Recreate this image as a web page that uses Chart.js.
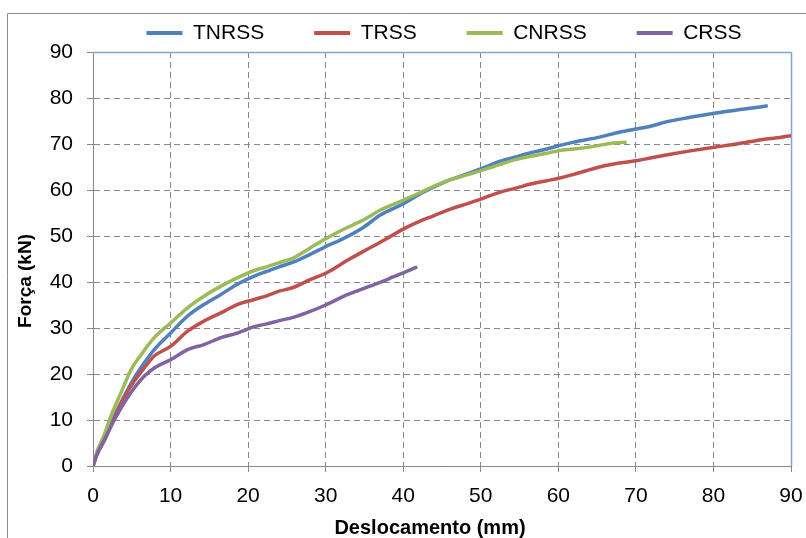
<!DOCTYPE html>
<html><head><meta charset="utf-8">
<script src="https://cdn.jsdelivr.net/npm/chart.js@4.4.1/dist/chart.umd.min.js"></script>
<style>html,body{margin:0;padding:0;background:#fff}canvas{display:block}</style>
</head><body>
<canvas id="c" width="806" height="538"></canvas>
<script>
// ---- data ----
const seriesNames = ['TNRSS', 'TRSS', 'CNRSS', 'CRSS'];

const tnrssX = [0, 0.5, 1.5, 2.75, 4, 5.3, 6.6, 7.9, 10, 12.2, 14.3, 16.5, 18.6, 20.8, 22.4, 24, 25.8, 28, 30, 32, 34.8, 37, 40, 42, 43.9, 46, 48.2, 50, 52.4, 54.5, 56.7, 58.5, 60.2, 62, 65.3, 68, 70.2, 72, 73.9, 77, 80.1, 84, 87];
const tnrssY = [0, 2.5, 5.7, 10.8, 15.1, 19.1, 22.4, 25.3, 28.9, 32.6, 35.1, 37.3, 39.5, 41.3, 42.3, 43.3, 44.3, 46, 47.7, 49.2, 51.8, 54.5, 57, 59, 60.6, 62.2, 63.5, 64.6, 66.2, 67.2, 68.2, 68.9, 69.7, 70.4, 71.5, 72.6, 73.3, 73.9, 74.8, 75.8, 76.7, 77.6, 78.3];

const trssX = [0, 0.5, 1.5, 2.75, 4, 5.3, 6.6, 7.9, 10, 12.2, 14.3, 16.5, 18.6, 20.8, 22.4, 24, 25.8, 28, 30, 32.7, 34.8, 37, 40, 41.3, 43.9, 46, 48.2, 50, 52.4, 54.5, 56.7, 58.5, 60.2, 62, 65.3, 67, 70.2, 72, 73.9, 77, 80.1, 83, 86.8, 88, 90];
const trssY = [0, 2.5, 5.7, 10.4, 14.8, 18.4, 21.3, 23.9, 26, 29.3, 31.5, 33.3, 35.1, 36.2, 37, 38, 38.8, 40.5, 41.9, 44.6, 46.6, 48.6, 51.5, 52.6, 54.4, 55.8, 57, 58, 59.5, 60.4, 61.4, 62, 62.6, 63.4, 65, 65.6, 66.4, 67, 67.6, 68.5, 69.3, 70, 71.1, 71.3, 71.8];

const cnrssX = [0, 0.6, 1.46, 2.3, 3.6, 4.9, 6.2, 7.9, 10, 12.2, 14.3, 16.5, 18.6, 20.8, 22.4, 24, 25.8, 28, 30, 32, 33.5, 35, 37, 40, 42, 43.9, 46, 48.2, 50, 52.4, 54.5, 56.7, 58.5, 60.2, 62, 65.3, 67, 68.8];
const cnrssY = [0, 3.5, 6.8, 10.8, 15.9, 20.9, 24.2, 27.9, 31.1, 34.4, 36.9, 39.1, 40.9, 42.5, 43.3, 44.2, 45.2, 47.4, 49.4, 51.2, 52.4, 53.6, 55.6, 57.8, 59.3, 60.8, 62.2, 63.3, 64.2, 65.5, 66.6, 67.4, 68, 68.6, 68.9, 69.7, 70.2, 70.4];

const crssX = [0, 0.5, 1.46, 2.75, 4, 5.3, 6.6, 7.9, 10, 12.2, 14.3, 16.5, 18.6, 20.8, 22.4, 24, 25.8, 28, 30, 32.7, 34, 35.7, 37, 38.7, 40, 41.8];
const crssY = [0, 2.5, 5.7, 10, 13.7, 16.9, 19.5, 21.3, 23.1, 25.3, 26.4, 27.9, 28.9, 30.3, 30.9, 31.6, 32.3, 33.6, 35, 37.2, 38, 39.1, 39.9, 41.1, 42, 43.3];

const xTicks = [0, 10, 20, 30, 40, 50, 60, 70, 80, 90];
const yTicks = [0, 10, 20, 30, 40, 50, 60, 70, 80, 90];

const xTitle = 'Deslocamento (mm)';
const yTitle = 'Força (kN)';

// ---- styling ----
const colors = ['#4F81BD', '#C0504D', '#9BBB59', '#8064A2'];
const FONT = "'Liberation Sans', Arial, sans-serif";
const GRID = '#878787';

function pts(xs, ys) { return xs.map((x, i) => ({ x: x, y: ys[i] })); }
const allX = [tnrssX, trssX, cnrssX, crssX];
const allY = [tnrssY, trssY, cnrssY, crssY];

const datasets = seriesNames.map((name, i) => ({
  label: name,
  data: pts(allX[i], allY[i]),
  borderColor: colors[i],
  backgroundColor: colors[i],
  borderWidth: 3.5,
  pointRadius: 0,
  cubicInterpolationMode: 'monotone',
  order: 4 - i
}));

const framePlugin = {
  id: 'frame',
  afterLayout(chart) {
    const lg = chart.legend, ca = chart.chartArea;
    if (!lg) return;
    const dx = (ca.left + ca.right) / 2 + 2 - (lg.left + lg.right) / 2;
    lg.left += dx; lg.right += dx;
    lg.top = -27.5;
    lg.bottom = ca.top;
    lg.height = lg.bottom - lg.top;
  },
  beforeDraw(chart) {
    const ctx = chart.ctx;
    ctx.save();
    ctx.fillStyle = '#ffffff';
    ctx.fillRect(0, 0, chart.width, chart.height);
    ctx.strokeStyle = '#8c8c8c';
    ctx.lineWidth = 1;
    ctx.beginPath();
    ctx.moveTo(7.5, chart.height + 2);
    ctx.lineTo(7.5, 13.5);
    ctx.lineTo(chart.width + 2, 13.5);
    ctx.stroke();
    ctx.restore();
  },
  beforeDatasetsDraw(chart) {
    const ctx = chart.ctx, ca = chart.chartArea;
    ctx.save();
    ctx.strokeStyle = '#7FA6DC';
    ctx.lineWidth = 1.5;
    ctx.beginPath();
    ctx.moveTo(ca.left, ca.top + 0.5);
    ctx.lineTo(ca.right + 0.5, ca.top + 0.5);
    ctx.lineTo(ca.right + 0.5, ca.bottom);
    ctx.stroke();
    ctx.restore();
  },
  afterDraw(chart) {
    // axis titles, placed where the reference puts them
    const ctx = chart.ctx;
    ctx.save();
    ctx.fillStyle = '#000';
    ctx.textAlign = 'center';
    ctx.textBaseline = 'middle';
    ctx.font = "bold 20px " + FONT;
    ctx.fillText(xTitle, 430, 528);
    ctx.translate(26, 281);
    ctx.rotate(-Math.PI / 2);
    ctx.font = "bold 19px " + FONT;
    ctx.fillText(yTitle, 0, 0);
    ctx.restore();
  }
};

new Chart(document.getElementById('c'), {
  type: 'line',
  data: { datasets: datasets },
  options: {
    responsive: false,
    animation: false,
    devicePixelRatio: 1,
    layout: { padding: { left: 0, right: 15, top: 0, bottom: 0 } },
    plugins: {
      tooltip: { enabled: false },
      legend: {
        position: 'top',
        maxHeight: 52,
        labels: {
          font: { family: FONT, size: 21 },
          color: '#000',
          boxWidth: 36,
          boxHeight: 4,
          padding: 50,
          sort: (a, b) => a.datasetIndex - b.datasetIndex,
          generateLabels(chart) {
            const items = Chart.defaults.plugins.legend.labels.generateLabels(chart);
            return items.map(it => Object.assign({}, it, { fillStyle: it.strokeStyle, lineWidth: 0 }));
          }
        }
      }
    },
    scales: {
      x: {
        type: 'linear',
        min: xTicks[0],
        max: xTicks[xTicks.length - 1],
        afterFit(s) { s.height = 72; s.paddingRight = 0; s.paddingLeft = 0; },
        afterBuildTicks(s) { s.ticks = xTicks.map(v => ({ value: v })); },
        ticks: { font: { family: FONT, size: 21 }, color: '#000', padding: 12, maxRotation: 0, autoSkip: false },
        grid: { color: GRID, lineWidth: 1, tickLength: 6, tickColor: GRID, tickBorderDash: [] },
        border: { display: true, color: GRID, width: 1, dash: [6, 4] },
        title: { display: false }
      },
      y: {
        type: 'linear',
        min: yTicks[0],
        max: yTicks[yTicks.length - 1],
        afterFit(s) { s.width = 93; },
        afterBuildTicks(s) { s.ticks = yTicks.map(v => ({ value: v })); },
        ticks: { font: { family: FONT, size: 21 }, color: '#000', padding: 14, autoSkip: false },
        grid: { color: GRID, lineWidth: 1, tickLength: 6, tickColor: GRID, tickBorderDash: [] },
        border: { display: true, color: GRID, width: 1, dash: [6, 4] },
        title: { display: false }
      }
    }
  },
  plugins: [framePlugin]
});
</script>
</body></html>
